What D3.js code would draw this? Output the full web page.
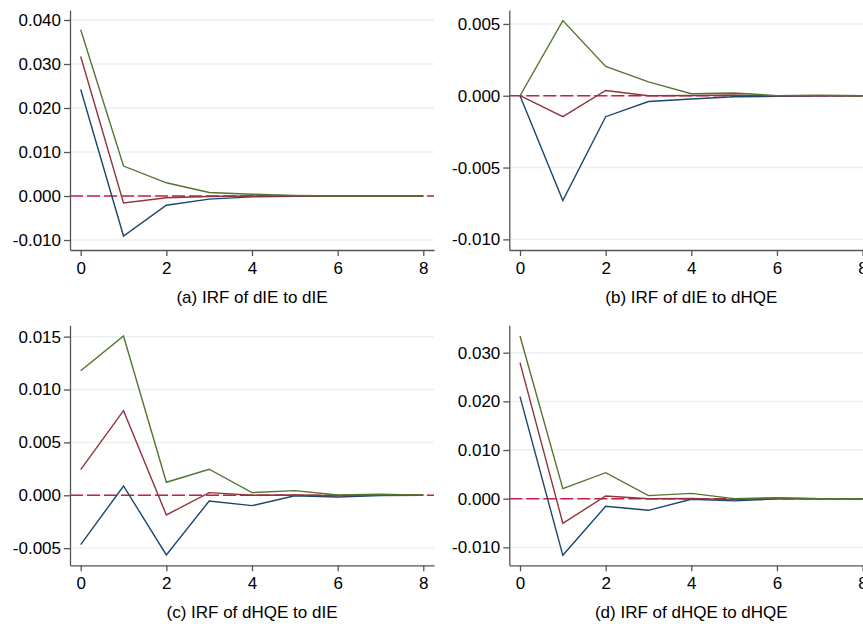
<!DOCTYPE html>
<html>
<head>
<meta charset="utf-8">
<script src="https://cdn.jsdelivr.net/npm/d3@7"></script>
<style>
  body { margin: 0; background: #fff; }
  svg { display: block; font-family: "Liberation Sans", Arial, sans-serif; }
</style>
</head>
<body>
<script>
// impulse response steps and tick labels
var steps = [0, 1, 2, 3, 4, 5, 6, 7, 8];
var xTicks = [0, 2, 4, 6, 8];
var titles = [
  "(a) IRF of dIE to dIE",
  "(b) IRF of dIE to dHQE",
  "(c) IRF of dHQE to dIE",
  "(d) IRF of dHQE to dHQE"
];

// (a) dIE -> dIE
var lowerA = [0.0242, -0.0091, -0.0021, -0.0007, -0.0002, -0.00005, 0, 0, 0];
var irfA   = [0.0317, -0.0016, -0.0004, -0.0001, 0, 0, 0, 0, 0];
var upperA = [0.0378, 0.0068, 0.0030, 0.0008, 0.0004, 0.0001, 0, 0, 0];
var yTicksA = [-0.01, 0, 0.01, 0.02, 0.03, 0.04];

// (b) dIE -> dHQE
var lowerB = [0, -0.0073, -0.00146, -0.0004, -0.00023, -0.00007, -0.00004, -0.00001, 0];
var irfB   = [0, -0.00146, 0.00037, 0, 0.00002, 0.00005, -0.00001, 0, 0];
var upperB = [0, 0.00523, 0.00204, 0.00097, 0.00014, 0.00019, 0.00001, 0.00003, 0];
var yTicksB = [-0.01, -0.005, 0, 0.005];

// (c) dHQE -> dIE
var lowerC = [-0.00467, 0.00088, -0.00564, -0.00054, -0.00098, -0.00004, -0.00016, -0.00003, 0];
var irfC   = [0.00242, 0.0080, -0.00186, 0.00025, 0, 0.00003, -0.00004, 0.00003, 0];
var upperC = [0.01178, 0.01506, 0.00123, 0.00246, 0.00025, 0.00044, 0.00003, 0.0001, 0.00001];
var yTicksC = [-0.005, 0, 0.005, 0.01, 0.015];

// (d) dHQE -> dHQE
var lowerD = [0.02096, -0.01164, -0.00157, -0.00239, -0.00013, -0.00046, -0.00005, -0.00002, 0];
var irfD   = [0.02795, -0.00506, 0.00055, 0, 0.00005, -0.0002, 0.0001, 0, 0];
var upperD = [0.03343, 0.00206, 0.00535, 0.00062, 0.0011, 0.00002, 0.0002, 0, 0];
var yTicksD = [-0.01, 0, 0.01, 0.02, 0.03];

var panels = [
  {lower: lowerA, irf: irfA, upper: upperA, ticks: yTicksA, ydom: [-0.01227, 0.04227], x0: 70, y0: 10},
  {lower: lowerB, irf: irfB, upper: upperB, ticks: yTicksB, ydom: [-0.01074, 0.00597], x0: 509.3, y0: 10},
  {lower: lowerC, irf: irfC, upper: upperC, ticks: yTicksC, ydom: [-0.00662, 0.01607], x0: 70, y0: 325.3},
  {lower: lowerD, irf: irfD, upper: upperD, ticks: yTicksD, ydom: [-0.01369, 0.03563], x0: 509.3, y0: 325.3}
];

var plotW = 364, plotH = 240;
var colors = {lower: "#1a476f", irf: "#90353b", upper: "#55752f"};

var svg = d3.select("body").append("svg")
  .attr("width", 863)
  .attr("height", 624);

panels.forEach(function(p, k) {
  var g = svg.append("g").attr("transform", "translate(" + p.x0 + "," + p.y0 + ")");

  var x = d3.scaleLinear().domain([-0.25, 8.25]).range([0, plotW]);
  var y = d3.scaleLinear().domain(p.ydom).range([plotH, 0]);

  // gridlines
  g.selectAll(".grid").data(p.ticks).enter().append("line")
    .attr("x1", 0).attr("x2", plotW)
    .attr("y1", function(d) { return y(d); })
    .attr("y2", function(d) { return y(d); })
    .attr("stroke", "#e8f0f2")
    .attr("stroke-width", 1.4);

  // zero line
  g.append("line")
    .attr("x1", 0).attr("x2", plotW)
    .attr("y1", y(0)).attr("y2", y(0))
    .attr("stroke", "#c71f47")
    .attr("stroke-width", 1.5)
    .attr("stroke-dasharray", "13,4");

  var line = d3.line()
    .x(function(d, i) { return x(steps[i]); })
    .y(function(d) { return y(d); });

  ["lower", "irf", "upper"].forEach(function(s) {
    g.append("path")
      .attr("d", line(p[s]))
      .attr("fill", "none")
      .attr("stroke", colors[s])
      .attr("stroke-width", 1.4);
  });

  var yAxis = g.append("g")
    .call(d3.axisLeft(y).tickValues(p.ticks).tickSize(6).tickSizeOuter(0).tickPadding(3)
      .tickFormat(function(d) { return d.toFixed(3); }));

  var xAxis = g.append("g")
    .attr("transform", "translate(0," + plotH + ")")
    .call(d3.axisBottom(x).tickValues(xTicks).tickSize(6).tickSizeOuter(0).tickPadding(6)
      .tickFormat(d3.format("d")));

  [yAxis, xAxis].forEach(function(a) {
    a.select(".domain").attr("stroke", "#555").attr("stroke-width", 1.3);
    a.selectAll(".tick line").attr("stroke", "#555").attr("stroke-width", 1.3);
    a.selectAll("text").attr("fill", "#000").style("font-size", "17px")
      .style("font-family", "'Liberation Sans', Arial, sans-serif");
  });

  g.append("text")
    .attr("x", plotW / 2)
    .attr("y", plotH + 53)
    .attr("text-anchor", "middle")
    .style("font-size", "17px")
    .text(titles[k]);
});
</script>
</body>
</html>
